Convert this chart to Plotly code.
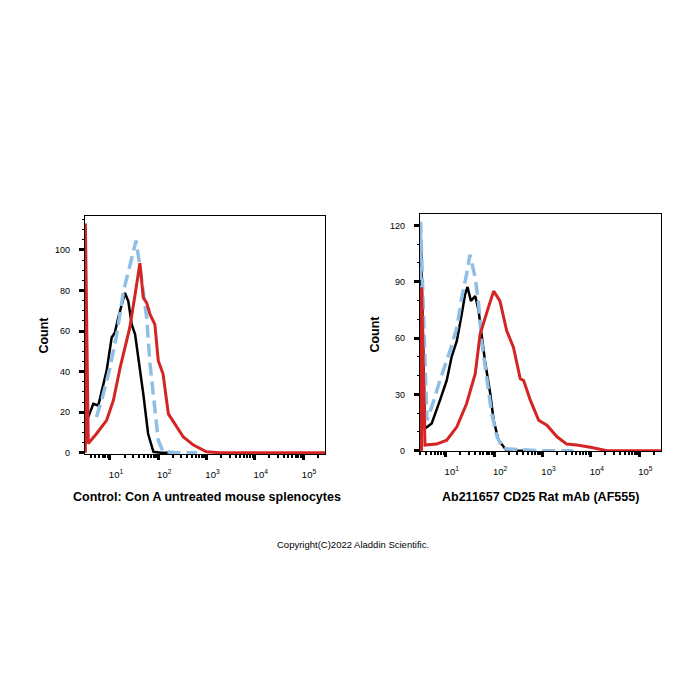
import plotly.graph_objects as go

# ---------------- data (x given as log10 of fluorescence, y = count) ----------------
left_black_log = [0.55, 0.654, 0.757, 0.828, 0.93, 1.035, 1.10, 1.17, 1.31, 1.38, 1.45, 1.52, 1.59, 1.69, 1.79, 1.90, 2.05, 2.4]
left_black_count = [17.6, 24.1, 23.3, 30.7, 40.5, 56.8, 59.2, 66.6, 78.8, 74.7, 63.3, 58.4, 47, 29, 9.4, 0.5, 0, 0]

left_blue_log = [0.72, 0.85, 1.0, 1.14, 1.28, 1.40, 1.54, 1.62, 1.69, 1.76, 1.83, 1.93, 2.0, 2.1, 2.4, 2.8]
left_blue_count = [17.6, 28, 42, 58.4, 79.6, 91, 104.6, 92, 79.6, 66.6, 43.7, 22.5, 6.2, 0.5, 0, 0]

left_red_log = [0.49, 0.49, 0.55, 0.72, 0.93, 1.07, 1.21, 1.35, 1.41, 1.52, 1.62, 1.69, 1.76, 1.83, 1.93, 2.0, 2.1, 2.21, 2.38, 2.52, 2.73, 3.0, 3.27, 4.0, 5.46]
left_red_count = [0, 113, 4.6, 9.4, 16, 25.8, 42, 55.2, 61.7, 78, 93.5, 76.4, 73.9, 68.2, 63.3, 45.4, 38.8, 19.2, 12.7, 7.8, 3.8, 0.5, 0, 0, 0]

right_black_log = [0.49, 0.49, 0.571, 0.71, 0.88, 1.02, 1.12, 1.23, 1.33, 1.40, 1.45, 1.52, 1.61, 1.68, 1.74, 1.81, 1.92, 1.99, 2.09, 2.26, 2.6]
right_black_count = [0, 110, 11.8, 14.5, 26.8, 37.4, 49.8, 58.6, 72.7, 83.3, 87.2, 79.8, 82.4, 74.5, 62.1, 48, 30.3, 16.2, 5.7, 0, 0]

right_blue_log = [0.48, 0.48, 0.61, 0.71, 0.88, 1.09, 1.23, 1.33, 1.43, 1.50, 1.61, 1.68, 1.74, 1.85, 1.95, 2.06, 2.19, 3.0, 3.64]
right_blue_count = [0, 122, 16.2, 23.3, 37.4, 53.3, 65.6, 81.5, 93.9, 104.4, 92.1, 78, 58.6, 37.4, 19.7, 7.4, 1, 0, 0]

right_red_log = [0.50, 0.50, 0.571, 0.81, 1.02, 1.23, 1.43, 1.61, 1.71, 1.78, 1.88, 1.99, 2.12, 2.26, 2.40, 2.54, 2.61, 2.75, 2.92, 3.09, 3.30, 3.50, 3.71, 3.99, 4.33, 5.46]
right_red_count = [0, 87, 3.0, 3.5, 5.6, 12.7, 25, 41, 62, 68.3, 76.2, 85, 79.8, 63.9, 55, 38.3, 37.4, 26.8, 16.2, 13.6, 7.4, 3.5, 3.0, 1.8, 0, 0]

x_tick_vals = [10, 100, 1000, 10000, 100000]
x_tick_text = ["10<sup>1</sup>", "10<sup>2</sup>", "10<sup>3</sup>", "10<sup>4</sup>", "10<sup>5</sup>"]
left_y_ticks = [0, 20, 40, 60, 80, 100]
right_y_ticks = [0, 30, 60, 90, 120]

panel_titles = ["Control: Con A untreated mouse splenocytes", "Ab211657 CD25 Rat mAb (AF555)"]
y_title = "Count"
copyright_text = "Copyright(C)2022 Aladdin Scientific."

# ---------------- styling ----------------
RED = "#d42424"
BLUE = "#8fbfe6"
BLACK = "#000000"
FONT = "Liberation Sans, Arial, sans-serif"

minor_vals = [m * 10 ** k for k in range(0, 6) for m in range(2, 10)]


def lin(vals):
    return [10 ** v for v in vals]


fig = go.Figure()

panels = [
    ("x", "y", left_black_log, left_black_count, left_blue_log, left_blue_count, left_red_log, left_red_count),
    ("x2", "y2", right_black_log, right_black_count, right_blue_log, right_blue_count, right_red_log, right_red_count),
]
for xa, ya, bl, bc, ul, uc, rl, rc in panels:
    fig.add_trace(go.Scatter(x=lin(bl), y=bc, xaxis=xa, yaxis=ya, mode="lines",
                             line=dict(color=BLACK, width=2.5), showlegend=False, hoverinfo="skip"))
    fig.add_trace(go.Scatter(x=lin(ul), y=uc, xaxis=xa, yaxis=ya, mode="lines",
                             line=dict(color=BLUE, width=3.5, dash="13px,6px"), showlegend=False, hoverinfo="skip"))
    fig.add_trace(go.Scatter(x=lin(rl), y=rc, xaxis=xa, yaxis=ya, mode="lines",
                             line=dict(color=RED, width=3), showlegend=False, hoverinfo="skip"))

xcommon = dict(type="log", showgrid=False, zeroline=False, showline=True, linecolor="black", linewidth=1.2,
               mirror=True, ticks="outside", ticklen=5, tickwidth=2.5, tickcolor="black",
               tickvals=x_tick_vals, ticktext=x_tick_text, tickfont=dict(family=FONT, size=9.5, color="black"),
               ticklabelstandoff=6, ticklabelshift=6,
               minor=dict(tickvals=minor_vals, ticks="outside", ticklen=3, tickwidth=1.5, tickcolor="black"))
ycommon = dict(showgrid=False, zeroline=False, showline=True, linecolor="black", linewidth=1.2,
               mirror=True, ticks="outside", ticklen=5, tickwidth=2.5, tickcolor="black",
               tickfont=dict(family=FONT, size=9, color="black"), ticklabelstandoff=7)

fig.update_layout(
    width=700, height=700, autosize=False,
    margin=dict(l=0, r=0, t=0, b=0),
    paper_bgcolor="white", plot_bgcolor="white",
    xaxis=dict(domain=[0.12143, 0.46429], range=[0.482, 5.456], anchor="y", **xcommon),
    yaxis=dict(domain=[0.34643, 0.68857], range=[-0.7, 116.5], anchor="x", tickvals=left_y_ticks,
               minor=dict(dtick=5, ticks="outside", ticklen=2, tickwidth=1, tickcolor="black"), **ycommon),
    xaxis2=dict(domain=[0.6, 0.94471], range=[0.468, 5.455], anchor="y2", **xcommon),
    yaxis2=dict(domain=[0.351, 0.69186], range=[-0.2, 126], anchor="x2", tickvals=right_y_ticks,
                minor=dict(dtick=10, ticks="outside", ticklen=2, tickwidth=1, tickcolor="black"), **ycommon),
)

annots = [
    dict(text="<b>%s</b>" % panel_titles[0], x=206.5 / 700, y=1 - 501 / 700, font=dict(size=12.5)),
    dict(text="<b>%s</b>" % panel_titles[1], x=540 / 700, y=1 - 501 / 700, font=dict(size=12.5)),
    dict(text="<b>%s</b>" % y_title, x=44 / 700, y=1 - 338 / 700, textangle=-90, font=dict(size=12.5)),
    dict(text="<b>%s</b>" % y_title, x=375 / 700, y=1 - 337 / 700, textangle=-90, font=dict(size=12.5)),
    dict(text=copyright_text, x=352.5 / 700, y=1 - 548 / 700, font=dict(size=9.5)),
]
for a in annots:
    f = dict(family=FONT, color="black")
    f.update(a.pop("font"))
    fig.add_annotation(xref="paper", yref="paper", showarrow=False, xanchor="center", yanchor="middle",
                       font=f, **a)

fig.write_html("out.html")
